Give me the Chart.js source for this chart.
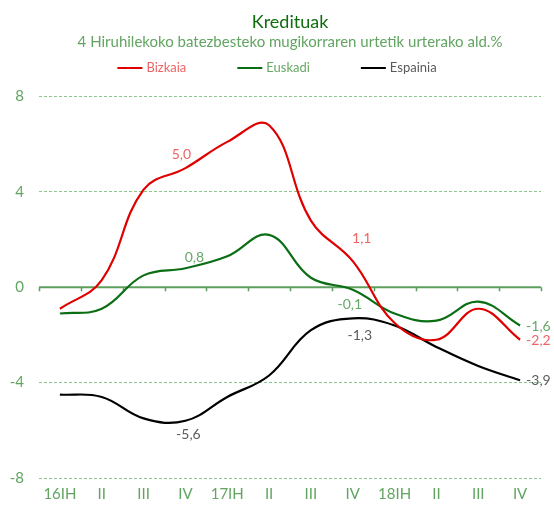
<!DOCTYPE html>
<html>
<head>
<meta charset="utf-8">
<script src="https://cdn.jsdelivr.net/npm/chart.js@4.4.0/dist/chart.umd.min.js"></script>
<style>
    html, body { margin: 0; padding: 0; background: #fff; }
    #wrap { width: 554px; height: 507px; }
</style>
</head>
<body>
<div id="wrap"><canvas id="kredituakChart"></canvas></div>
<script>
// Chart data
const quarters = ['16IH', 'II', 'III', 'IV', '17IH', 'II', 'III', 'IV', '18IH', 'II', 'III', 'IV'];
const bizkaia = [-0.9, 0.3, 4.1, 5.0, 6.1, 6.8, 2.8, 1.1, -1.5, -2.2, -0.9, -2.2];
const euskadi = [-1.1, -0.9, 0.5, 0.8, 1.3, 2.2, 0.4, -0.1, -1.1, -1.4, -0.6, -1.6];
const espainia = [-4.5, -4.6, -5.5, -5.6, -4.6, -3.7, -1.8, -1.3, -1.6, -2.5, -3.3, -3.9];
const labelledPoints = [3, 7, 11];

const FONT = 'Lato, "Open Sans", sans-serif';

// where each value label sits relative to its point
const labelPlacement = [
    [{ dx: -4, dy: -14, align: 'center' }, { dx: 9, dy: -23, align: 'center' }, { dx: 6, dy: 1, align: 'left' }],
    [{ dx: 9, dy: -11, align: 'center' }, { dx: -3, dy: 15, align: 'center' }, { dx: 6, dy: 1, align: 'left' }],
    [{ dx: 3, dy: 14, align: 'center' }, { dx: 7, dy: 17, align: 'center' }, { dx: 6, dy: 0, align: 'left' }]
];

// zero line with small tick marks, plus the custom legend
const decorPlugin = {
    id: 'decor',
    beforeDatasetsDraw(chart) {
        const { ctx, chartArea, scales } = chart;
        const y0 = scales.y.getPixelForValue(0);
        ctx.save();
        ctx.strokeStyle = '#5e9f5e';
        ctx.lineWidth = 2;
        ctx.beginPath();
        ctx.moveTo(chartArea.left, y0);
        ctx.lineTo(chartArea.right, y0);
        ctx.stroke();
        ctx.lineWidth = 1.5;
        const n = quarters.length;
        const step = (chartArea.right - chartArea.left) / n;
        for (let i = 0; i <= n; i++) {
            const x = Math.round(chartArea.left + i * step) + 0.5;
            ctx.beginPath();
            ctx.moveTo(x, y0);
            ctx.lineTo(x, y0 + 4);
            ctx.stroke();
        }
        ctx.restore();
    },
    afterDraw(chart) {
        const ctx = chart.ctx;
        ctx.save();
        // legend
        ctx.font = '13px ' + FONT;
        ctx.textBaseline = 'middle';
        const lineW = 25, textGap = 4, itemGap = 51;
        const items = chart.data.datasets.map(ds => ({ ds, w: lineW + textGap + ctx.measureText(ds.label).width }));
        const total = items.reduce((s, it) => s + it.w, 0) + itemGap * (items.length - 1);
        let x = chart.width / 2 - total / 2;
        const ly = 68;
        items.forEach(it => {
            ctx.strokeStyle = it.ds.borderColor;
            ctx.lineWidth = 2;
            ctx.beginPath();
            ctx.moveTo(x, ly);
            ctx.lineTo(x + lineW, ly);
            ctx.stroke();
            ctx.fillStyle = it.ds.labelColor;
            ctx.textAlign = 'left';
            ctx.fillText(it.ds.label, x + lineW + textGap, ly);
            x += it.w + itemGap;
        });

        // value labels
        ctx.font = '14px ' + FONT;
        chart.data.datasets.forEach((ds, di) => {
            const meta = chart.getDatasetMeta(di);
            labelledPoints.forEach((idx, k) => {
                const pt = meta.data[idx];
                const p = labelPlacement[di][k];
                ctx.fillStyle = ds.labelColor;
                ctx.textAlign = p.align;
                ctx.fillText(ds.data[idx].toFixed(1).replace('.', ','), pt.x + p.dx, pt.y + p.dy);
            });
        });
        ctx.restore();
    }
};

const ctx = document.getElementById('kredituakChart').getContext('2d');
new Chart(ctx, {
    type: 'line',
    data: {
        labels: quarters,
        datasets: [
            { label: 'Bizkaia', data: bizkaia, borderColor: '#e00000', labelColor: '#ee6464' },
            { label: 'Euskadi', data: euskadi, borderColor: '#0b6e14', labelColor: '#66a866' },
            { label: 'Espainia', data: espainia, borderColor: '#000000', labelColor: '#5a5a5a' }
        ]
    },
    options: {
        responsive: true,
        maintainAspectRatio: false,
        animation: false,
        layout: { padding: { top: 11, right: 13, bottom: 1, left: 0 } },
        elements: {
            line: { borderWidth: 2.2, tension: 0.4, fill: false },
            point: { radius: 0, hoverRadius: 0 }
        },
        plugins: {
            legend: { display: false },
            tooltip: { enabled: false },
            title: {
                display: true,
                fullSize: false,
                text: 'Kredituak',
                color: '#0e6e0e',
                font: { family: FONT, size: 18, weight: 'normal', lineHeight: 1.2 },
                padding: { top: 0, bottom: 0 }
            },
            subtitle: {
                display: true,
                fullSize: false,
                text: '4 Hiruhilekoko batezbesteko mugikorraren urtetik urterako ald.%',
                color: '#62a562',
                font: { family: FONT, size: 15, lineHeight: 1.2 },
                padding: { top: 1, bottom: 45 }
            }
        },
        scales: {
            x: {
                offset: true,
                afterFit(scale) { scale.height = 28; },
                grid: { display: false, drawTicks: false },
                border: { display: false },
                ticks: {
                    color: '#62a562',
                    font: { family: FONT, size: 15 },
                    padding: 7,
                    maxRotation: 0,
                    autoSkip: false
                }
            },
            y: {
                min: -8,
                max: 8,
                afterFit(scale) { scale.width = 39; },
                grid: {
                    drawTicks: false,
                    color: c => c.tick.value === 0 ? 'rgba(0,0,0,0)' : '#8cc68c',
                    lineWidth: 1
                },
                border: { display: false, dash: [3, 2] },
                ticks: {
                    stepSize: 4,
                    color: '#62a562',
                    font: { family: FONT, size: 15 },
                    padding: 15
                }
            }
        }
    },
    plugins: [decorPlugin]
});
</script>
</body>
</html>
